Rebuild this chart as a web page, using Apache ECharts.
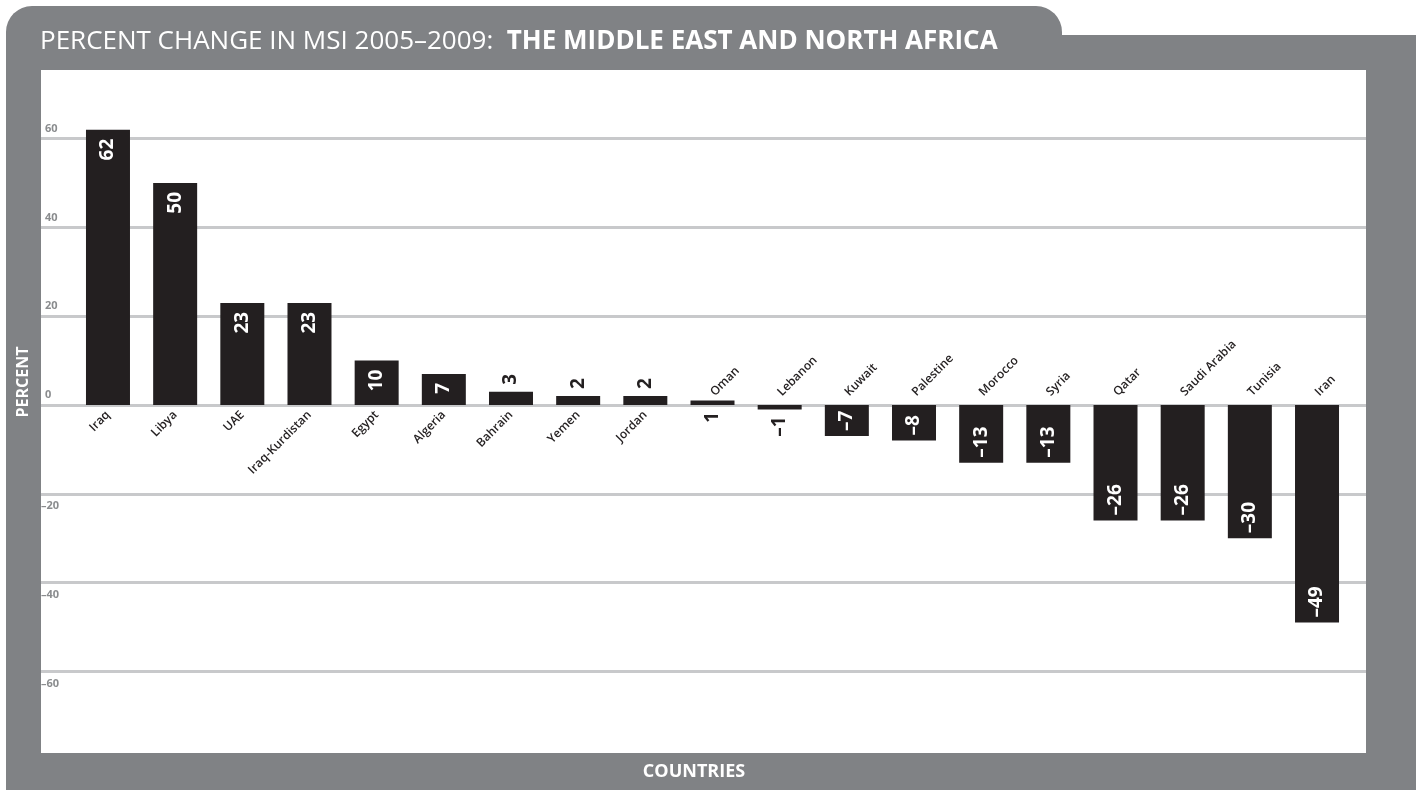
<!DOCTYPE html>
<html>
<head>
<meta charset="utf-8">
<title>Percent change in MSI 2005–2009</title>
<script src="https://cdn.jsdelivr.net/npm/echarts@6/dist/echarts.min.js"></script>
<style>
  html, body { margin: 0; padding: 0; background: #fff; }
  #main { width: 1424px; height: 790px; }
</style>
</head>
<body>
<div id="main"></div>
<script>
var countries = ['Iraq', 'Libya', 'UAE', 'Iraq-Kurdistan', 'Egypt', 'Algeria', 'Bahrain', 'Yemen', 'Jordan',
  'Oman', 'Lebanon', 'Kuwait', 'Palestine', 'Morocco', 'Syria', 'Qatar', 'Saudi Arabia', 'Tunisia', 'Iran'];
var change = [62, 50, 23, 23, 10, 7, 3, 2, 2, 1, -1, -7, -8, -13, -13, -26, -26, -30, -49];
var percentTicks = [-60, -40, -20, 0, 20, 40, 60];

var GRAY = '#808285', INK = '#231f20', RULE = '#c8c9cb';
var FONT = '"Open Sans", "Noto Sans", sans-serif';
var FIRST_TOP_NAME = 9; // from Oman on, the country name sits above the zero line

var yMin = percentTicks[0], yMax = percentTicks[percentTicks.length - 1];
var yStep = percentTicks[1] - percentTicks[0];
var plotTop = 138.6, plotBottom = 118.6;
var plotHeight = 790 - plotTop - plotBottom;

// the printed chart uses an en dash for minus
function dash(v) {
  return v < 0 ? '\u2013' + Math.abs(v) : String(v);
}

function barLabel(v, i) {
  var lab = {
    show: true, rotate: 90, verticalAlign: 'middle',
    fontFamily: FONT, fontWeight: 'bold', fontSize: 19
  };
  if (Math.abs(v) >= 5) {
    lab.color = '#fff';
    lab.position = v > 0 ? 'insideTop' : 'insideBottom';
    lab.align = v > 0 ? 'right' : 'left';
    lab.distance = v > 0 ? 9 : 5;
  } else {
    lab.color = INK;
    lab.position = i < FIRST_TOP_NAME ? 'top' : 'bottom';
    lab.align = i < FIRST_TOP_NAME ? 'left' : 'right';
    lab.distance = 7;
  }
  return lab;
}

// country names hang off the zero line, pulled in from the grid edge
function nameAxis(pos, keep) {
  var toZero = pos === 'bottom' ? -yMin : yMax;
  return {
    gridIndex: 1, type: 'category', data: countries, position: pos,
    offset: -plotHeight * toZero / (yMax - yMin),
    axisLine: { show: false, onZero: false },
    axisTick: { show: false },
    axisLabel: {
      interval: 0, rotate: pos === 'bottom' ? 45 : -45, margin: pos === 'bottom' ? 8 : 11,
      fontSize: 12, fontWeight: 600, color: INK,
      formatter: function (v, i) { return keep(i) ? v : ''; }
    }
  };
}

var chart = echarts.init(document.getElementById('main'));
var option = {
  animation: false,
  textStyle: { fontFamily: FONT },
  graphic: [
    { type: 'rect', z: -10, shape: { x: 6, y: 6, width: 1056, height: 40, r: [26, 26, 0, 0] }, style: { fill: GRAY } },
    { type: 'rect', z: -10, shape: { x: 6, y: 35, width: 1410, height: 755 }, style: { fill: GRAY } },
    { type: 'rect', z: -9, shape: { x: 41, y: 70, width: 1325, height: 683 }, style: { fill: '#fff' } },
    {
      type: 'text', x: 40, y: 42,
      style: {
        text: '{a|PERCENT CHANGE IN MSI 2005\u20132009:  }{b|THE MIDDLE EAST AND NORTH AFRICA}',
        verticalAlign: 'middle', textVerticalAlign: 'middle',
        rich: {
          a: { fill: '#fff', fontFamily: FONT, fontSize: 26 },
          b: { fill: '#fff', fontFamily: FONT, fontSize: 26, fontWeight: 'bold' }
        }
      }
    },
    {
      type: 'text', x: 694, y: 772,
      style: {
        text: 'COUNTRIES', fill: '#fff', font: 'bold 18px ' + FONT,
        align: 'center', textAlign: 'center', verticalAlign: 'middle', textVerticalAlign: 'middle'
      }
    },
    {
      type: 'text', x: 23, y: 382, rotation: Math.PI / 2,
      style: {
        text: 'PERCENT', fill: '#fff', font: 'bold 16px ' + FONT,
        align: 'center', textAlign: 'center', verticalAlign: 'middle', textVerticalAlign: 'middle'
      }
    }
  ],
  grid: [
    { left: 41, right: 58, top: plotTop, bottom: plotBottom },
    { left: 74.4, right: 73.4, top: plotTop, bottom: plotBottom }
  ],
  xAxis: [
    { gridIndex: 0, type: 'value', show: false },
    nameAxis('bottom', function (i) { return i < FIRST_TOP_NAME; }),
    nameAxis('top', function (i) { return i >= FIRST_TOP_NAME; })
  ],
  yAxis: [
    {
      gridIndex: 0, type: 'value', min: yMin, max: yMax, interval: yStep,
      axisLine: { show: false }, axisTick: { show: false },
      splitLine: { lineStyle: { color: RULE, width: 3 } },
      axisLabel: {
        inside: true, margin: 4,
        formatter: function (v) {
          return v >= 0 ? '{p|' + v + '}' : '{n|' + dash(v) + '}';
        },
        rich: {
          p: { color: '#8a8c8e', fontWeight: 'bold', fontSize: 11, fontFamily: FONT, padding: [0, 0, 20, 0] },
          n: { color: '#8a8c8e', fontWeight: 'bold', fontSize: 11, fontFamily: FONT, padding: [24, 0, 0, -4] }
        }
      }
    },
    {
      gridIndex: 1, type: 'value', min: yMin, max: yMax, interval: yStep, show: false
    }
  ],
  series: [{
    type: 'bar',
    xAxisIndex: 1,
    yAxisIndex: 1,
    barWidth: 44,
    clip: false,
    itemStyle: { color: INK },
    label: { formatter: function (p) { return dash(p.value); } },
    data: change.map(function (v, i) {
      return { value: v, label: barLabel(v, i) };
    })
  }]
};
chart.setOption(option);
</script>
</body>
</html>
